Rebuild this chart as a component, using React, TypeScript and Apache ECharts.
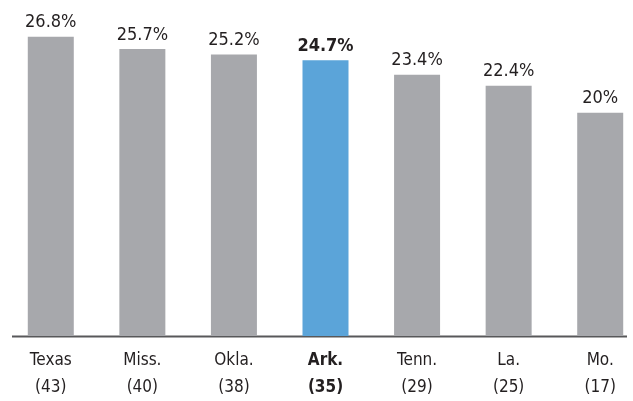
import React, { useEffect, useRef } from "react";
import * as echarts from "echarts";

const states = ["Texas", "Miss.", "Okla.", "Ark.", "Tenn.", "La.", "Mo."];
const ranks = ["43", "40", "38", "35", "29", "25", "17"];
const values = [26.8, 25.7, 25.2, 24.7, 23.4, 22.4, 20];
const highlight = "Ark.";

const FONT = "'DejaVu Sans Condensed', sans-serif";

export default function App() {
  const ref = useRef<HTMLDivElement>(null);
  useEffect(() => {
    const chart = echarts.init(ref.current!, null, { renderer: "svg" });
    chart.setOption({
      animation: false,
      grid: { left: 5, width: 641, top: 1, bottom: 65, outerBoundsMode: "none", containLabel: false },
      xAxis: {
        type: "category",
        data: states,
        axisLine: { show: false },
        axisTick: { show: false },
        axisLabel: {
          margin: 9,
          interval: 0,
          formatter: (v: string) => {
            const i = states.indexOf(v);
            const k = v === highlight ? "b" : "n";
            return `{${k}|${v}}\n{${k}|(${ranks[i]})}`;
          },
          rich: {
            n: { fontFamily: FONT, fontSize: 17, color: "#231f20", lineHeight: 27 },
            b: { fontFamily: FONT, fontSize: 17, fontWeight: "bold", color: "#231f20", lineHeight: 27 },
          },
        },
      },
      yAxis: { type: "value", min: 0, max: 30, show: false, splitLine: { show: false } },
      series: [
        {
          type: "bar",
          barWidth: 46,
          data: values.map((v, i) => ({
            value: v,
            itemStyle: { color: states[i] === highlight ? "#5ba4d9" : "#a7a8ac" },
            label: states[i] === highlight ? { fontWeight: "bold" } : {},
          })),
          label: {
            show: true,
            position: "top",
            distance: 7,
            fontFamily: FONT,
            fontSize: 18,
            color: "#231f20",
            formatter: (p: any) => `${p.value}%`,
          },
        },
      ],
      graphic: [
        {
          type: "line",
          shape: { x1: 12, y1: 336.5, x2: 627, y2: 336.5 },
          style: { stroke: "#58585a", lineWidth: 2 },
        },
      ],
    });
    return () => chart.dispose();
  }, []);
  return <div ref={ref} style={{ width: 633, height: 401, position: "fixed", left: 0, top: 0 }} />;
}
